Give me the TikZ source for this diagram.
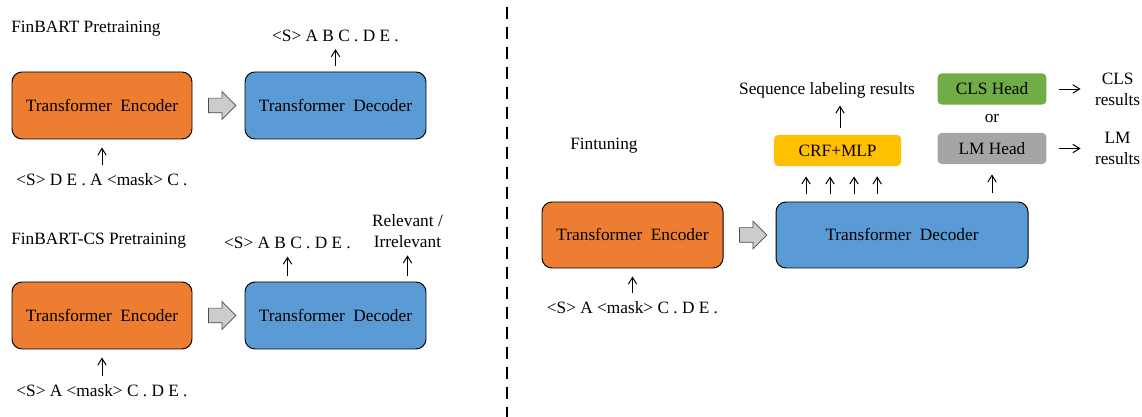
\documentclass[tikz,border=0pt]{standalone}
\usepackage{fontspec}
\setmainfont{Liberation Serif}
\usepackage{xcolor}
\usepackage{tikz}
\usetikzlibrary{
  positioning,
  arrows.meta,
  shapes.arrows,
  calc
}
\definecolor{encorange}{HTML}{ED7D31}
\definecolor{decblue}{HTML}{5B9BD5}
\definecolor{clsgreen}{HTML}{70AD47}
\definecolor{crfgold}{HTML}{FFC000}
\definecolor{lmgray}{HTML}{A5A5A5}
\newcommand{\figfont}{\fontsize{12.3}{14.8}\selectfont}
\tikzset{
  >={Straight Barb[length=1.7mm,width=2.1mm]},
  uparrow/.style={->,line width=0.7pt,shorten <=0.15cm,shorten >=0.15cm},
  inarrow/.style={uparrow,shorten <=0.18cm,shorten >=0.2cm},
  block/.style={rectangle,draw,line width=0.7pt,rounded corners=0.25cm,minimum height=1.675cm,align=center,font=\figfont},
  encoder/.style={block,fill=encorange,minimum width=4.5cm},
  decoder/.style={block,fill=decblue,minimum width=4.525cm},
  head/.style={rectangle,rounded corners=3pt,minimum width=2.72cm,minimum height=0.78cm,align=center,font=\figfont},
  handover/.style={single arrow,draw=black!70,fill=black!20,line width=0.5pt,inner xsep=0.1cm,inner ysep=0.175cm,single arrow head extend=0.16cm,minimum height=0.68cm},
  seqtext/.style={align=center,font=\figfont,inner sep=1pt},
  heading/.style={anchor=west,font=\figfont,inner sep=0pt},
  divider/.style={line width=2.1pt,dash pattern=on 0.3cm off 0.2cm}
}
\begin{document}
\begin{tikzpicture}[node distance=1cm, on grid]
    \useasboundingbox (0,0) rectangle (28.55,10.425);

    % FinBART pretraining
    \node[heading] (pretrainA) at (0.275,9.7175) {FinBART Pretraining};
    \node[encoder] (encA) at (2.55,7.7875) {Transformer\ \ Encoder};
    \node[decoder,right=5.8375cm of encA] (decA) {Transformer\ \ Decoder};
    \node[handover] (passA) at ($(encA.east)!0.5!(decA.west)$) {};
    \node[seqtext,below=1.8625cm of encA] (inA) {<S> D E . A <mask> C .};
    \node[seqtext,above=1.75cm of decA] (outA) {<S> A B C . D E .};

    \draw[inarrow] (inA.north) -- (inA.north |- encA.south);
    \draw[uparrow] (outA.south |- decA.north) -- (outA.south);

    % FinBART-CS pretraining
    \node[heading] (pretrainB) at (0.275,4.4075) {FinBART-CS Pretraining};
    \node[encoder,below=5.25cm of encA] (encB) {Transformer\ \ Encoder};
    \node[decoder,right=5.8375cm of encB] (decB) {Transformer\ \ Decoder};
    \node[handover] (passB) at ($(encB.east)!0.5!(decB.west)$) {};
    \node[seqtext,below=1.8875cm of encB] (inB) {<S> A <mask> C . D E .};
    \node[seqtext,above=1.8125cm of decB,xshift=-1.2cm] (outB) {<S> A B C . D E .};
    \node[seqtext,above=2.1075cm of decB,xshift=1.8cm] (relB) {Relevant /\\Irrelevant};

    \draw[inarrow] (inB.north) -- (inB.north |- encB.south);
    \draw[uparrow] (outB.south |- decB.north) -- (outB.south);
    \draw[uparrow] (relB.south |- decB.north) -- (relB.south);

    \draw[divider] (12.675,10.25) -- (12.675,0);

    % fine-tuning
    \node[heading] (finetune) at (14.25,6.775) {Fintuning};
    \node[encoder,minimum width=4.525cm,minimum height=1.65cm] (encC) at (15.8125,4.55) {Transformer\ \ Encoder};
    \node[decoder,minimum width=6.3cm,minimum height=1.65cm,right=6.7375cm of encC] (decC) {Transformer\ \ Decoder};
    \node[handover] (passC) at ($(encC.east)!0.5!(decC.west)$) {};
    \node[seqtext,below=1.825cm of encC] (inC) {<S> A <mask> C . D E .};

    \node[head,fill=crfgold,minimum width=3.175cm] (crf) at (20.94,6.6625) {CRF+MLP};
    \node[seqtext,above=1.5125cm of crf,xshift=-0.265cm] (seqres) {Sequence labeling results};
    \node[head,fill=clsgreen] (clshead) at (24.8,8.2) {CLS Head};
    \node[head,fill=lmgray,below=1.4875cm of clshead] (lmhead) {LM Head};
    \node[seqtext] (orC) at ($(clshead)!0.5!(lmhead)$) {or};
    \node[seqtext,right=3.14cm of clshead] (clsres) {CLS\\results};
    \node[seqtext,right=3.14cm of lmhead] (lmres) {LM\\results};

    \draw[inarrow] (inC.north) -- (inC.north |- encC.south);
    \foreach \dx in {-0.79,-0.19,0.41,0.99}
      \draw[uparrow,shorten <=0.2cm,shorten >=0.25cm] ([xshift=\dx cm]crf.south |- decC.north) -- ([xshift=\dx cm]crf.south);
    \draw[uparrow,shorten <=0.175cm] ([xshift=0.06cm]crf.north) -- ([xshift=0.06cm]crf.north |- seqres.south);
    \draw[uparrow,shorten <=0.225cm,shorten >=0.25cm] (lmhead.south |- decC.north) -- (lmhead.south);
    \draw[uparrow,shorten <=0.32cm,shorten >=0.32cm] (clshead.east) -- (clsres.west);
    \draw[uparrow,shorten <=0.32cm,shorten >=0.32cm] (lmhead.east) -- (lmres.west);
\end{tikzpicture}
\end{document}
